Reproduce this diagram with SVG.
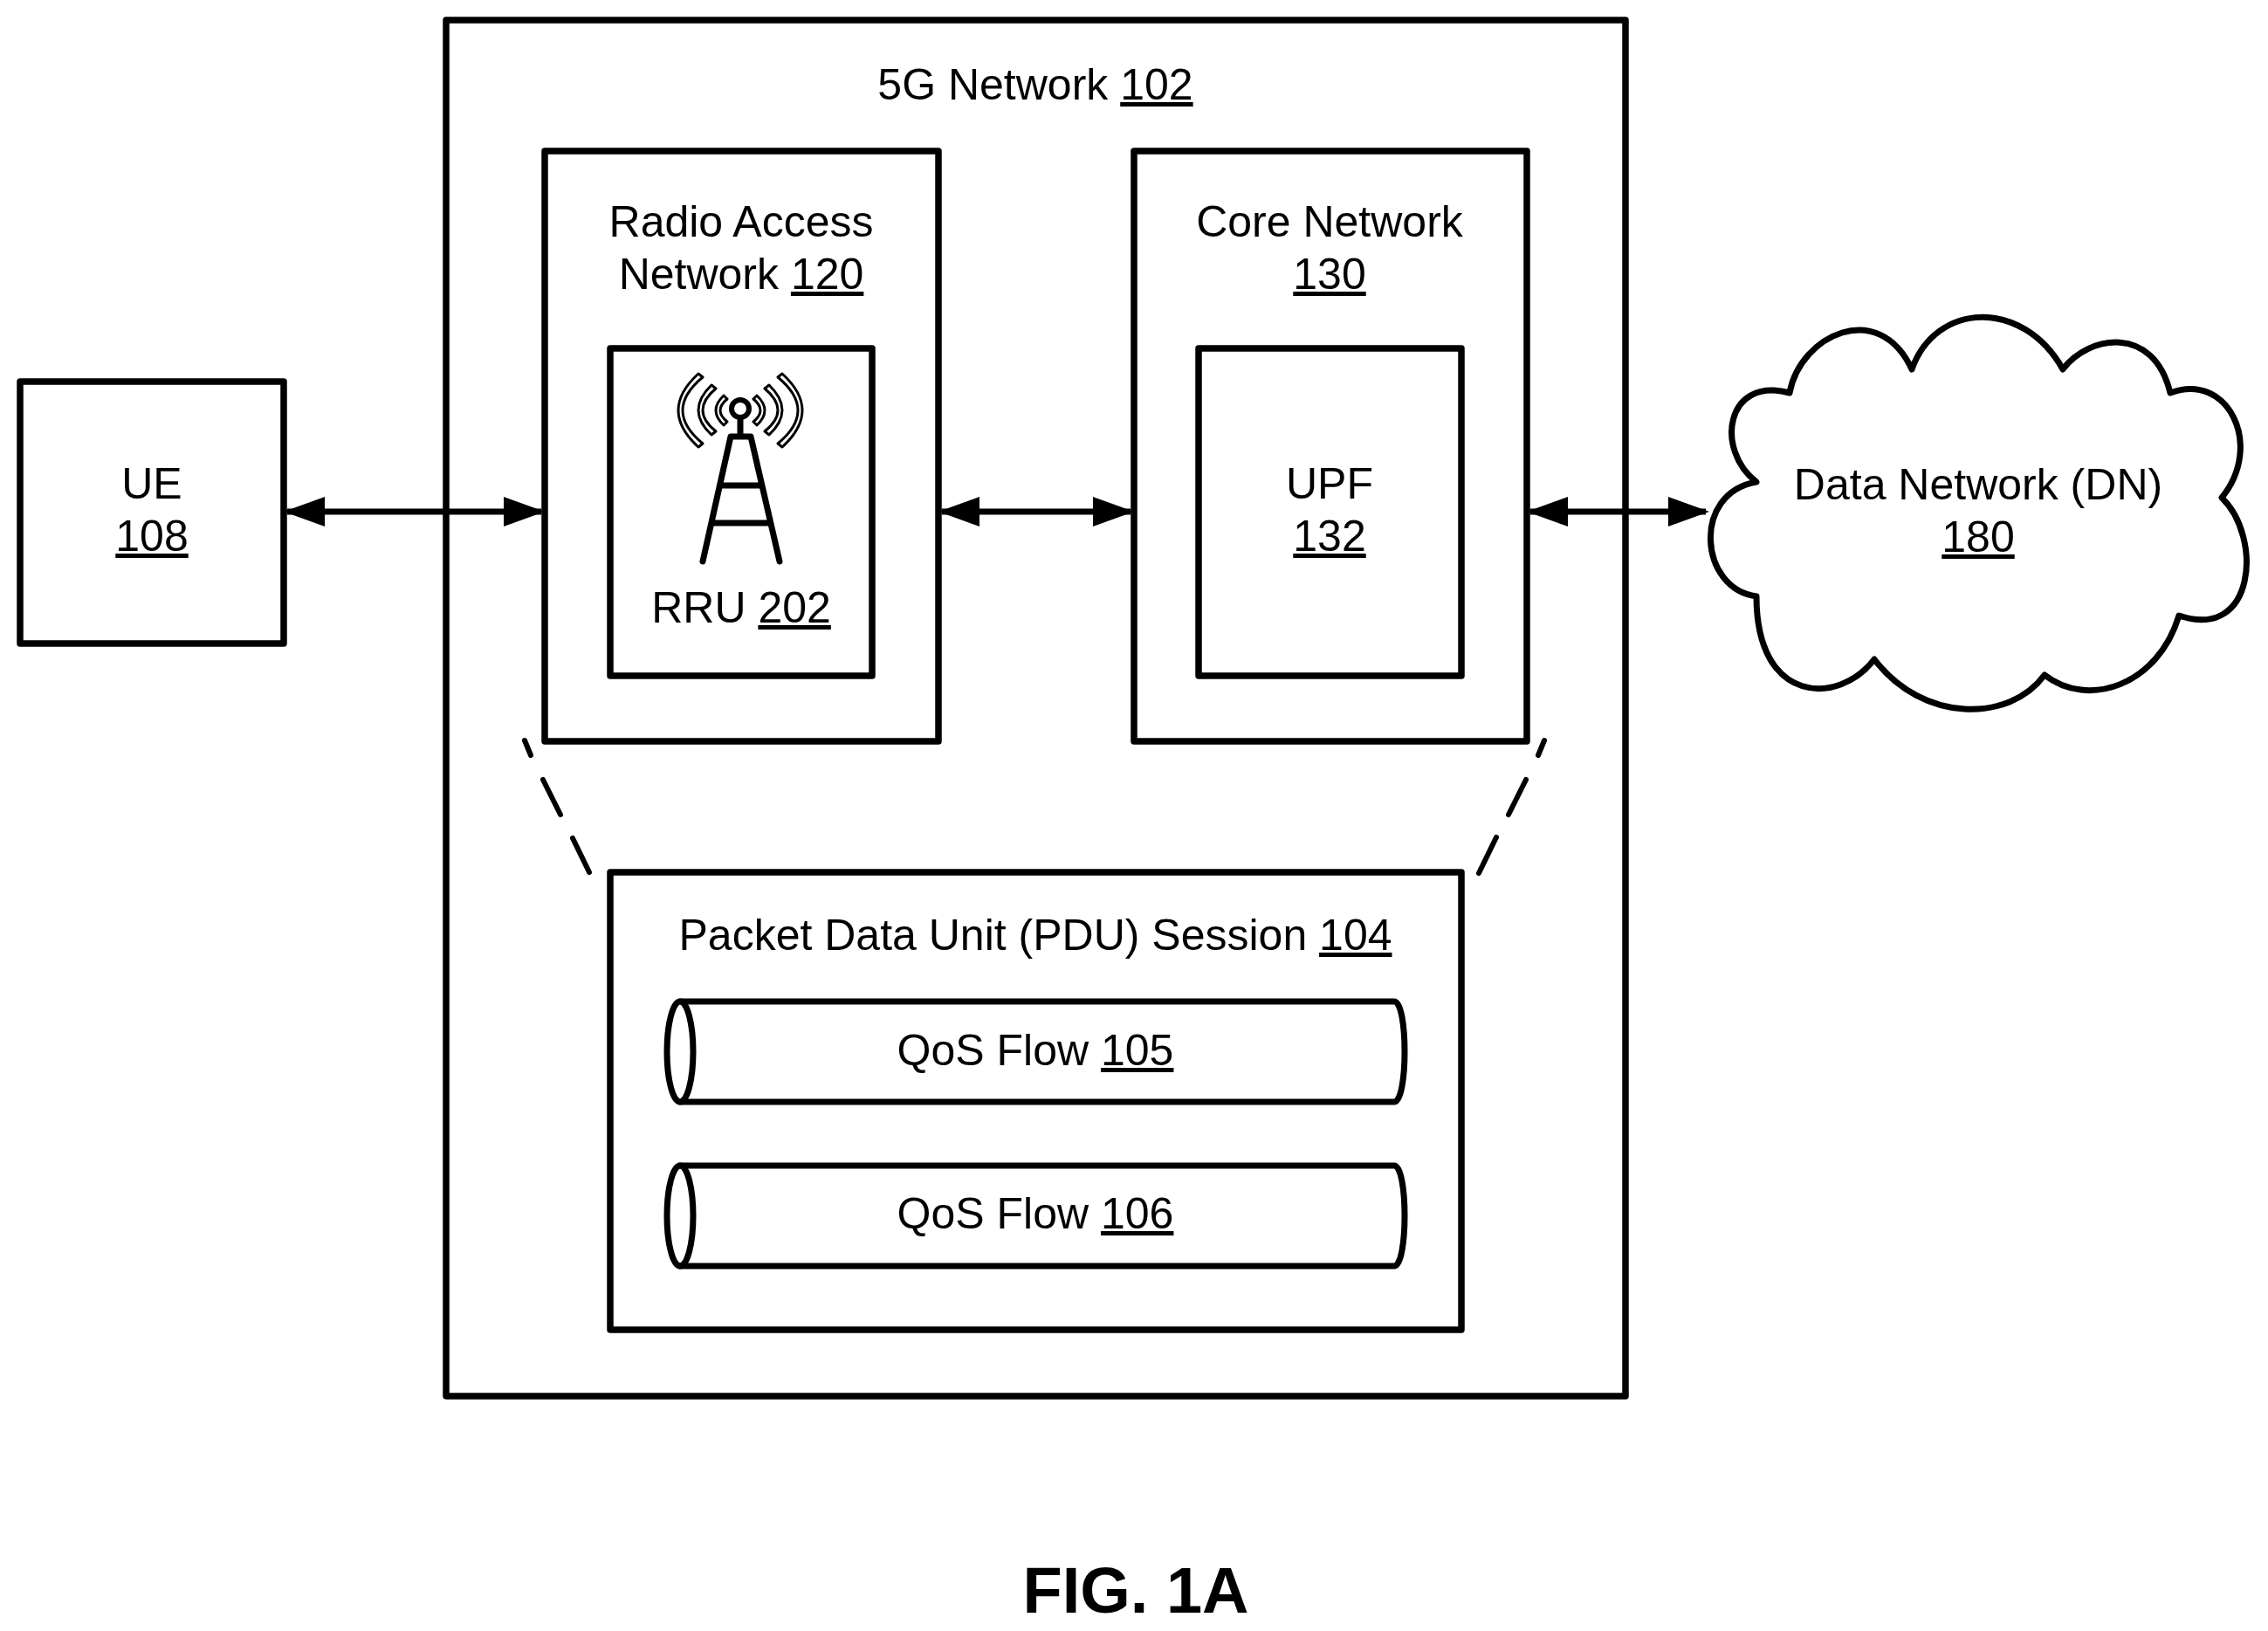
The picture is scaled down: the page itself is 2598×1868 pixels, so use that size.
<svg xmlns="http://www.w3.org/2000/svg" width="2598" height="1868" viewBox="0 0 2598 1868">
<style>
.b{fill:#fff;stroke:#000;stroke-width:7.500;stroke-linejoin:round}
.n{fill:none;stroke:#000;stroke-width:7;stroke-linejoin:round;stroke-linecap:round}
.t{font-family:"Liberation Sans",Arial,sans-serif;font-size:50px;fill:#000;text-anchor:middle}
.u{text-decoration:underline;text-decoration-thickness:5px}
.w{fill:#fff;stroke:#000;stroke-width:3;stroke-linejoin:round}
.c{fill:none;stroke:#000;stroke-width:7;marker-start:url(#ah);marker-end:url(#ah)}
.d{fill:none;stroke:#000;stroke-width:6;stroke-linecap:round}
</style>
<defs>
<marker id="ah" viewBox="0 0 47 34" refX="43" refY="17" markerWidth="47" markerHeight="34" markerUnits="userSpaceOnUse" orient="auto-start-reverse"><path d="M0 0L47 17L0 34Z" fill="#000"/></marker>
</defs>
<rect width="2598" height="1868" fill="#fff"/>
<g id="network-5g">
<rect class="b" x="511" y="23" width="1351" height="1576"/>
<text class="t" x="1186" y="114">5G Network <tspan class="u">102</tspan></text>
</g>
<g id="ue">
<rect class="b" x="23" y="437" width="302" height="300"/>
<text class="t" x="174" y="571">UE</text>
<text class="t u" x="174" y="631">108</text>
</g>
<g id="ran">
<rect class="b" x="624" y="173" width="451" height="676"/>
<text class="t" x="849" y="271">Radio Access</text>
<text class="t" x="849" y="331">Network <tspan class="u">120</tspan></text>
</g>
<g id="rru">
<rect class="b" x="699" y="399" width="300" height="375"/>
<g id="tower">
<circle cx="848" cy="468" r="10" fill="none" stroke="#000" stroke-width="6"/>
<path fill="none" stroke="#000" stroke-width="7" stroke-linecap="round" stroke-linejoin="round" d="M848 480V498M837 500H860M837 500L805 643M860 500L893 643M828 556H870M817 599H881"/>
<path class="w" d="M800 428Q754 470 800 512L805 508Q759 470 805 432ZM815 441Q785 470 815 498L820 494Q790 470 820 445ZM829 453Q811 470 829 487L833 483Q817 470 833 457Z"/>
<path class="w" d="M896 428Q942 470 896 512L891 508Q937 470 891 432ZM881 441Q911 470 881 498L876 494Q906 470 876 445ZM867 453Q885 470 867 487L863 483Q879 470 863 457Z"/>
</g>
<text class="t" x="849" y="713">RRU <tspan class="u">202</tspan></text>
</g>
<g id="core">
<rect class="b" x="1299" y="173" width="450" height="676"/>
<text class="t" x="1523" y="271">Core Network</text>
<text class="t u" x="1523" y="331">130</text>
</g>
<g id="upf">
<rect class="b" x="1373" y="399" width="301" height="375"/>
<text class="t" x="1523" y="571">UPF</text>
<text class="t u" x="1523" y="631">132</text>
</g>
<g id="pdu">
<rect class="b" x="699" y="999" width="975" height="524"/>
<text class="t" x="1186" y="1088">Packet Data Unit (PDU) Session <tspan class="u">104</tspan></text>
</g>
<g id="qos-105">
<path class="n" d="M779 1147H1597C1613 1147 1613 1262 1597 1262H779"/>
<ellipse class="n" cx="779" cy="1204.500" rx="15" ry="57.500"/>
<text class="t" x="1186" y="1220">QoS Flow <tspan class="u">105</tspan></text>
</g>
<g id="qos-106">
<path class="n" d="M779 1335H1597C1613 1335 1613 1450 1597 1450H779"/>
<ellipse class="n" cx="779" cy="1392.500" rx="15" ry="57.500"/>
<text class="t" x="1186" y="1407">QoS Flow <tspan class="u">106</tspan></text>
</g>
<g id="dn">
<path class="n" d="M2012 552C1964 515 1977 430 2050 450C2062 384 2152 341 2190 423C2217 346 2317 341 2363 423C2392 384 2467 371 2486 450C2552 425 2594 510 2545 570C2592 615 2584 735 2496 705C2472 785 2392 812 2342 773C2302 828 2202 828 2147 755C2107 808 2012 808 2012 683C1947 675 1937 565 2012 552Z"/>
<text class="t" x="2266" y="572">Data Network (DN)</text>
<text class="t u" x="2266" y="632">180</text>
</g>
<g id="connectors">
<path class="c" d="M329 586H620"/>
<path class="c" d="M1079 586H1295"/>
<path class="c" d="M1753 586H1954"/>
<path class="d" d="M601 848L608 865M622 893L642 933M656 960L675 999"/>
<path class="d" d="M1769 848L1762 865M1748 893L1728 933M1714 959L1694 1000"/>
</g>
<text id="fig" x="1301" y="1847" font-family="'Liberation Sans',Arial,sans-serif" font-size="74" font-weight="700" text-anchor="middle">FIG. 1A</text>
</svg>
